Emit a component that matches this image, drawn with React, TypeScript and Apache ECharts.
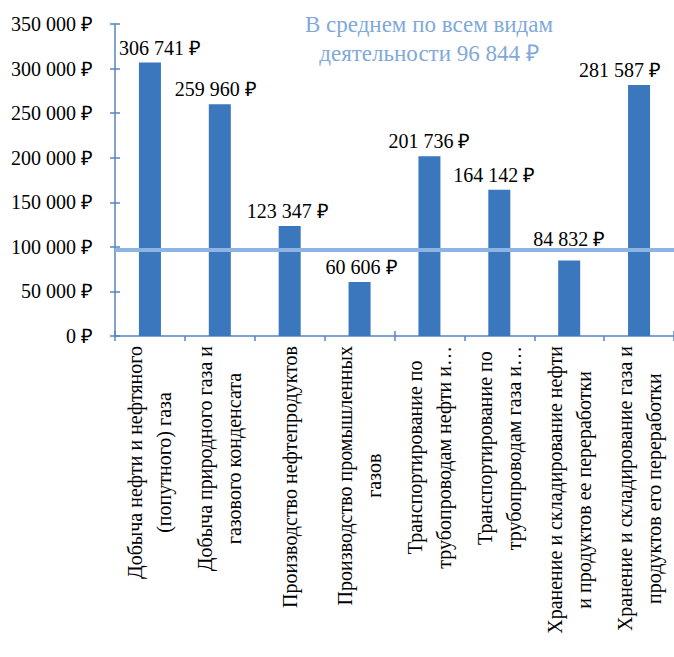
import React, { useEffect, useRef } from "react";
import * as echarts from "echarts";

const categories = [
  "Добыча нефти и нефтяного\n(попутного) газа",
  "Добыча природного газа и\nгазового конденсата",
  "Производство нефтепродуктов",
  "Производство промышленных\nгазов",
  "Транспортирование по\nтрубопроводам нефти и…",
  "Транспортирование по\nтрубопроводам газа и…",
  "Хранение и складирование нефти\nи продуктов ее переработки",
  "Хранение и складирование газа и\nпродуктов его переработки",
];
const values = [306741, 259960, 123347, 60606, 201736, 164142, 84832, 281587];
const averageValue = 96844;
const averageCaption = "В среднем по всем видам\nдеятельности";
const yMin = 0;
const yMax = 350000;
const yStep = 50000;

// label nudges (style only)
const labelShifts: [number, number][] = [
  [10, 0], [-4, 0], [-2, 0], [2, 0], [0, 0], [-5, 0], [0, -6], [-19, 0],
];

const FONT = "Liberation Serif";
const AXIS_COLOR = "#5585C5";

const fmt = (v: number) =>
  String(Math.round(v)).replace(/\B(?=(\d{3})+(?!\d))/g, " ") + " ₽";

export default function App() {
  const ref = useRef<HTMLDivElement>(null);
  useEffect(() => {
    if (!ref.current) return;
    document.body.style.margin = "0";
    const chart = echarts.init(ref.current, undefined, { renderer: "svg" });
    const gridRect = { left: 115, top: 24, width: 560, height: 312 };
    chart.setOption({
      animation: false,
      textStyle: { fontFamily: FONT },
      grid: [
        { ...gridRect, containLabel: false },
        { ...gridRect, containLabel: false },
      ],
      xAxis: [
        {
          type: "category",
          gridIndex: 0,
          data: categories,
          axisLine: { lineStyle: { color: AXIS_COLOR, width: 1.5 } },
          axisTick: { show: true, length: 5, alignWithLabel: false, lineStyle: { color: AXIS_COLOR, width: 1.5 } },
          axisLabel: {
            rotate: 90,
            margin: 10,
            interval: 0,
            color: "#000",
            fontFamily: FONT,
            fontSize: 20,
            lineHeight: 29,
            formatter: (v: string) =>
              v.split("\n").map((l) => `{c|${l}}`).join("\n"),
            rich: {
              c: { align: "center", fontFamily: FONT, fontSize: 20, lineHeight: 29, color: "#000" },
            },
          },
        },
        {
          type: "category",
          gridIndex: 1,
          data: categories,
          axisLine: { show: false },
          axisTick: { show: true, inside: true, length: 5, alignWithLabel: false, lineStyle: { color: AXIS_COLOR, width: 1.5 } },
          axisLabel: { show: false },
        },
      ],
      yAxis: [
        {
          type: "value",
          gridIndex: 0,
          min: yMin,
          max: yMax,
          interval: yStep,
          splitLine: { show: false },
          axisLine: { show: true, lineStyle: { color: AXIS_COLOR, width: 1.5 } },
          axisTick: { show: true, length: 5, lineStyle: { color: AXIS_COLOR, width: 1.5 } },
          axisLabel: {
            margin: 22,
            color: "#000",
            fontFamily: FONT,
            fontSize: 20,
            formatter: (v: number) => fmt(v),
          },
        },
        {
          type: "value",
          gridIndex: 1,
          min: yMin,
          max: yMax,
          interval: yStep,
          splitLine: { show: false },
          axisLine: { show: false },
          axisTick: { show: true, inside: true, length: 5, lineStyle: { color: AXIS_COLOR, width: 1.5 } },
          axisLabel: { show: false },
        },
      ],
      series: [
        {
          type: "bar",
          xAxisIndex: 0,
          yAxisIndex: 0,
          barWidth: 22,
          itemStyle: { color: "#3A77BD" },
          data: values.map((v, i) => ({
            value: v,
            label: { offset: labelShifts[i] },
          })),
          label: {
            show: true,
            position: "top",
            distance: 5,
            color: "#000",
            fontFamily: FONT,
            fontSize: 20,
            formatter: (p: any) => fmt(p.value),
          },
          markLine: {
            silent: true,
            symbol: "none",
            label: { show: false },
            lineStyle: { color: "#8DB4E2", width: 4, type: "solid" },
            data: [{ yAxis: averageValue }],
          },
        },
      ],
      graphic: [
        {
          type: "text",
          x: 429,
          y: 10,
          style: {
            text: `${averageCaption} ${fmt(averageValue)}`,
            fill: "#7FA9DA",
            fontFamily: FONT,
            fontSize: 23,
            lineHeight: 29,
            textAlign: "center",
          },
        },
      ],
    });
    return () => chart.dispose();
  }, []);
  return (
    <div style={{ position: "relative", width: 674, height: 657, fontFamily: FONT }}>
      <div ref={ref} style={{ width: 674, height: 657, background: "#fff" }} />
    </div>
  );
}
